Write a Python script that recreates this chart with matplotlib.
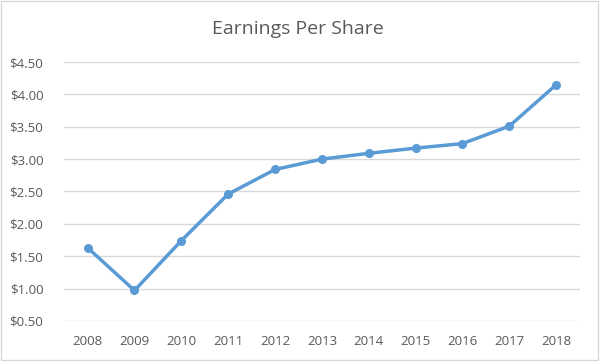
import matplotlib.pyplot as plt
from matplotlib.patches import Rectangle
from matplotlib.ticker import FuncFormatter

years = ["2008", "2009", "2010", "2011", "2012", "2013", "2014", "2015", "2016", "2017", "2018"]
eps = [1.63, 0.97, 1.74, 2.46, 2.84, 3.00, 3.09, 3.17, 3.24, 3.51, 4.15]
yticks = [0.5, 1.0, 1.5, 2.0, 2.5, 3.0, 3.5, 4.0, 4.5]

plt.rcParams['font.family'] = ['Open Sans', 'DejaVu Sans']
text_color = "#595959"

fig = plt.figure(figsize=(6, 3.63), dpi=100)
ax = fig.add_axes([0.107, 0.116, 0.859, 0.713])

x = range(len(years))
ax.plot(x, eps, color="#5B9BD5", linewidth=2.5, marker="o", markersize=5.5,
        solid_capstyle="round")

ax.set_xlim(-0.5, len(years) - 0.5)
ax.set_ylim(0.5, 4.5)
ax.set_yticks(yticks)
ax.yaxis.set_major_formatter(FuncFormatter(lambda v, p: "${:.2f}".format(v)))
ax.set_xticks(list(x))
ax.set_xticklabels(years)

ax.grid(axis="y", color="#D9D9D9", linewidth=1)
ax.set_axisbelow(True)
for s in ax.spines.values():
    s.set_visible(False)
ax.tick_params(length=0, labelsize=9.5, colors=text_color)
ax.tick_params(axis="y", pad=15)
ax.tick_params(axis="x", pad=10)

fig.suptitle("Earnings Per Share", x=0.497, y=0.945, fontsize=14, color=text_color)

fig.patches.append(Rectangle((0.001, 0.008), 0.996, 0.99, transform=fig.transFigure,
                             fill=False, edgecolor="#D9D9D9", linewidth=1))

fig.savefig("out.png", dpi=100)
